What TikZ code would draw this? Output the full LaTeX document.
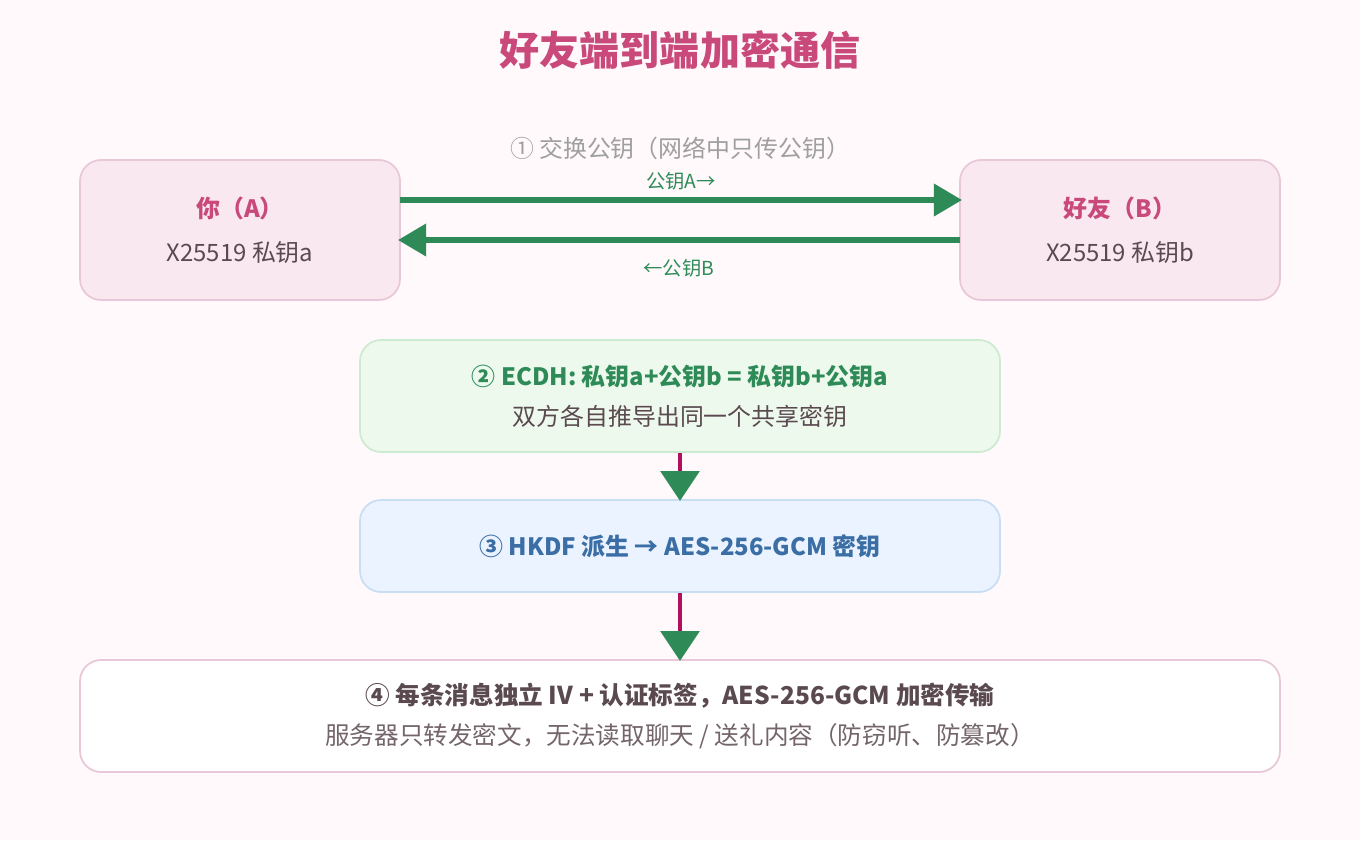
\documentclass[tikz,border=0pt]{standalone}
\usepackage{fontspec}
\setmainfont{Noto Sans CJK SC}
\usetikzlibrary{arrows.meta, positioning}
\definecolor{bgc}{HTML}{FFF9FB}
\definecolor{rosec}{HTML}{C8497A}
\definecolor{pinkfill}{HTML}{F9E8F0}
\definecolor{pinkline}{HTML}{E8C8D8}
\definecolor{greenc}{HTML}{2E8B57}
\definecolor{greenfill}{HTML}{EEF9EE}
\definecolor{greenline}{HTML}{CDEBD0}
\definecolor{bluefill}{HTML}{EAF3FF}
\definecolor{blueline}{HTML}{C9DDF3}
\definecolor{bluec}{HTML}{3A6EA5}
\definecolor{magc}{HTML}{B0105E}
\definecolor{textc}{HTML}{5A4A50}
\tikzset{
  box/.style={draw, line width=1pt, rounded corners=12pt, inner sep=0pt, align=center},
  xchg/.style={greenc, line width=3pt, -{Triangle[length=16pt, width=18pt]}},
  flowstep/.style={magc, line width=2.5pt, -{Triangle[length=17pt, width=22pt, color=greenc, fill=greenc]}, shorten >=-1pt}
}
\begin{document}
\begin{tikzpicture}[x=0.02cm, y=-0.02cm]
	\fill[bgc] (0,0) rectangle (1360,840);

	\node[text=rosec, font=\fontsize{22.8}{26}\selectfont\bfseries] (title) at (680,50) {好友端到端加密通信};
	\node[text=gray!75, font=\fontsize{13.6}{16}\selectfont] (s1) at (680,148) {① 交换公钥（网络中只传公钥）};

	% parties
	\node[box, fill=pinkfill, draw=pinkline, minimum width=320*0.02cm, minimum height=140*0.02cm, font=\fontsize{13.6}{20}\selectfont, text=textc] (you) at (240,230) {{\color{rosec}\bfseries 你（A）}\\[5pt] X25519 私钥a};
	\node[box, fill=pinkfill, draw=pinkline, minimum width=320*0.02cm, minimum height=140*0.02cm, font=\fontsize{13.6}{20}\selectfont, text=textc] (friend) at (1120,230) {{\color{rosec}\bfseries 好友（B）}\\[5pt] X25519 私钥b};

	\draw[xchg] (400,200) -- node[above=1pt, font=\fontsize{11}{12}\selectfont] {公钥A→} (962,200);
	\draw[xchg] (960,240) -- node[below=6pt, font=\fontsize{11}{12}\selectfont] {←公钥B} (398,240);

	% steps
	\node[box, fill=greenfill, draw=greenline, minimum width=640*0.02cm, minimum height=112*0.02cm, font=\fontsize{13.6}{20}\selectfont, text=textc] (ecdh) at (680,396) {{\color{greenc}\bfseries ② ECDH: 私钥a+公钥b = 私钥b+公钥a}\\[3pt] 双方各自推导出同一个共享密钥};
	\node[box, fill=bluefill, draw=blueline, minimum width=640*0.02cm, minimum height=92*0.02cm, font=\fontsize{13.6}{16}\selectfont\bfseries, text=bluec] (hkdf) at (680,546) {③ HKDF 派生 → AES-256-GCM 密钥};
	\node[box, fill=white, draw=pinkline, minimum width=1200*0.02cm, minimum height=112*0.02cm, font=\fontsize{14}{20}\selectfont, text=textc!85] (aes) at (680,716) {{\color{textc}\bfseries ④ 每条消息独立 IV + 认证标签，AES-256-GCM 加密传输}\\[3pt] 服务器只转发密文，无法读取聊天 / 送礼内容（防窃听、防篡改）};

	\draw[flowstep] (ecdh.south) -- (hkdf.north);
	\draw[flowstep] (hkdf.south) -- (aes.north);
\end{tikzpicture}
\end{document}
